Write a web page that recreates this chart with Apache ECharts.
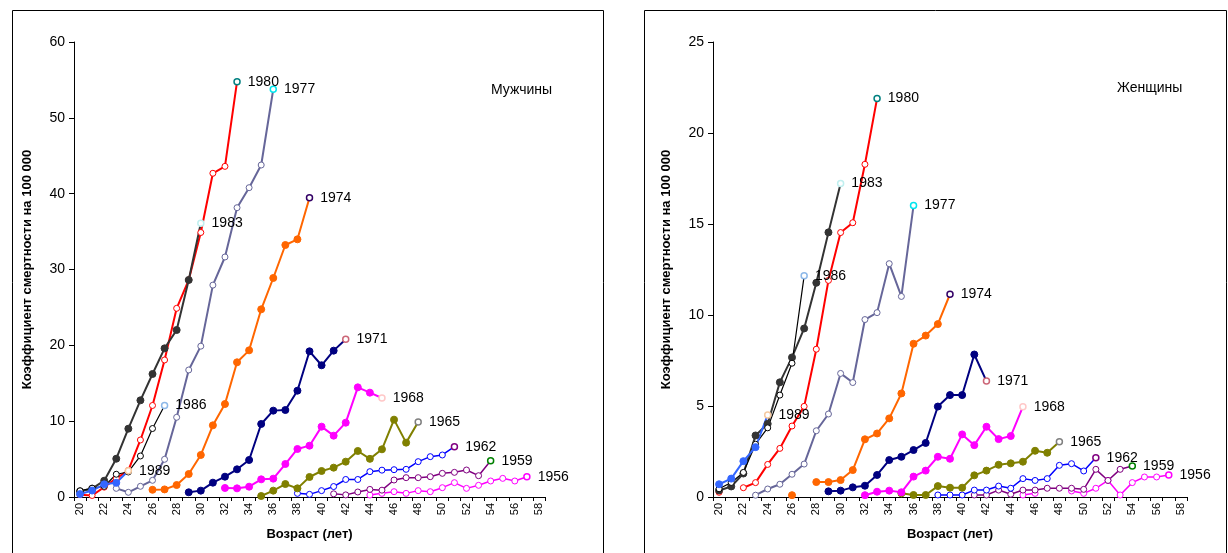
<!DOCTYPE html>
<html>
<head>
<meta charset="utf-8">
<script src="https://cdn.jsdelivr.net/npm/echarts@6/dist/echarts.min.js"></script>
<style>html,body{margin:0;padding:0;background:#fff}#c{width:1228px;height:553px}</style>
</head>
<body>
<div id="c"></div>
<script>
// Age categories (x axis)
const ages = ['20','21','22','23','24','25','26','27','28','29','30','31','32','33','34','35','36','37','38','39','40','41','42','43','44','45','46','47','48','49','50','51','52','53','54','55','56','57','58'];
const cohorts = ['1956','1959','1962','1965','1968','1971','1974','1977','1980','1983','1986','1989'];
// first age of each cohort's data
const startMen   = [44, 41, 38, 35, 32, 29, 26, 23, 20, 20, 20, 20];
const startWomen = [45, 41, 38, 35, 32, 29, 26, 23, 20, 20, 20, 20];

// Men (Мужчины), rate per 100 000
const m1956 = [0.26, 0.48, 0.7, 0.48, 0.84, 0.7, 1.23, 1.89, 1.14, 1.54, 2.11, 2.46, 2.11, 2.68];
const m1959 = [0.42, 0.28, 0.66, 1.0, 0.9, 2.24, 2.55, 2.55, 2.68, 3.12, 3.25, 3.56, 2.81, 4.79];
const m1962 = [0.48, 0.35, 0.84, 1.38, 2.31, 2.31, 3.34, 3.54, 3.6, 3.65, 4.66, 5.32, 5.54, 6.64];
const m1965 = [0.13, 0.84, 1.71, 1.14, 2.64, 3.43, 3.87, 4.66, 6.07, 5.03, 6.29, 10.2, 7.17, 9.89];
const m1968 = [1.19, 1.14, 1.36, 2.33, 2.42, 4.35, 6.33, 6.77, 9.28, 8.09, 9.8, 14.46, 13.76, 13.06];
const m1971 = [0.62, 0.84, 1.89, 2.68, 3.65, 4.88, 9.63, 11.39, 11.47, 14.02, 19.21, 17.37, 19.3, 20.8];
const m1974 = [0.95, 1.0, 1.58, 3.03, 5.54, 9.45, 12.26, 17.76, 19.34, 24.75, 28.88, 33.23, 33.98, 39.47];
const m1977 = [1.14, 0.62, 1.41, 2.2, 4.97, 10.51, 16.75, 19.89, 27.94, 31.65, 38.15, 40.79, 43.78, 53.77];
const m1980 = [0.3, 0.2, 1.3, 2.46, 3.5, 7.52, 12.07, 18.07, 24.88, 28.62, 34.88, 42.69, 43.6, 54.77];
const m1983 = [0.75, 1.1, 2.15, 5.05, 9.01, 12.75, 16.22, 19.6, 22.02, 28.62, 36.09];
const m1986 = [0.82, 1.16, 1.4, 3.0, 3.3, 5.41, 9.03, 12.07];
const m1989 = [0.38, 0.85, 1.67, 1.87, 3.47];

// Women (Женщины)
const w1956 = [0.11, 0.2, null, null, 0.33, 0.2, 0.48, 0.91, 0.11, 0.79, 1.1, 1.1, 1.21];
const w1959 = [0.11, 0.11, 0.38, 0.15, 0.38, 0.38, 0.48, 0.48, 0.48, 0.42, 1.52, 0.91, 1.52, 1.7];
const w1962 = [0.11, 0.11, 0.11, 0.38, 0.38, 0.6, 0.48, 1.01, 0.91, 1.01, 1.74, 1.83, 1.43, 2.16];
const w1965 = [0.2, 0.11, 0.11, 0.6, 0.51, 0.51, 1.19, 1.45, 1.77, 1.85, 1.94, 2.54, 2.43, 3.04];
const w1968 = [0.1, 0.29, 0.35, 0.26, 1.12, 1.45, 2.21, 2.1, 3.44, 2.85, 3.86, 3.18, 3.35, 4.96];
const w1971 = [0.31, 0.35, 0.53, 0.62, 1.21, 2.03, 2.21, 2.58, 2.97, 4.97, 5.6, 5.6, 7.83, 6.37];
const w1974 = [0.1, null, 0.82, 0.82, 0.93, 1.48, 3.17, 3.49, 4.32, 5.69, 8.42, 8.87, 9.5, 11.14];
const w1977 = [0.1, 0.44, 0.7, 1.25, 1.81, 3.64, 4.56, 6.79, 6.29, 9.75, 10.13, 12.82, 11.02, 16.01];
const w1980 = [0.26, null, 0.51, 0.79, 1.79, 2.67, 3.9, 4.98, 8.12, 11.9, 14.53, 15.07, 18.28, 21.9];
const w1983 = [0.36, 0.58, 1.29, 3.38, 4.02, 6.3, 7.67, 9.26, 11.77, 14.54, 17.23];
const w1986 = [0.45, 0.8, 1.35, 2.9, 3.8, 5.6, 7.35, 12.15];
const w1989 = [0.7, 1.01, 1.97, 2.74, 4.51];

const menData = [m1956, m1959, m1962, m1965, m1968, m1971, m1974, m1977, m1980, m1983, m1986, m1989];
const womenData = [w1956, w1959, w1962, w1965, w1968, w1971, w1974, w1977, w1980, w1983, w1986, w1989];

// styles
const lineColor = ['#FF00FF','#800080','#0000FF','#808000','#FF00FF','#000080','#FF6600','#666699','#FF0000','#333333','#000000','#3366FF'];
const lastColor = ['#FF00FF','#008000','#800080','#808080','#FFC8C8','#CC6677','#330066','#00E5EE','#008080','#BFEFEF','#8DB8E8','#F5C9A0'];
const filled    = [false,false,false,true,true,true,true,false,false,true,false,true];
const lineW     = [1.5,1.5,1.5,2,2,2,2,2,2,2,1.2,2];

const FONT = 'Liberation Sans, Arial, sans-serif';

function buildSeries(gridIdx, starts, dataSets) {
  return cohorts.map((name, i) => {
    const vals = dataSets[i];
    const startIdx = ages.indexOf(String(starts[i]));
    const data = ages.map(() => null);
    let lastIdx = -1;
    vals.forEach((v, k) => { data[startIdx + k] = v; if (v !== null) lastIdx = startIdx + k; });
    const out = data.map((v, idx) => {
      if (v === null) return null;
      if (idx === lastIdx) {
        return {
          value: v,
          symbolSize: 6,
          itemStyle: { color: '#fff', borderColor: lastColor[i], borderWidth: 1.5 },
          label: { show: true, position: 'right', distance: 7, formatter: name, color: '#000', fontSize: 14, fontFamily: FONT }
        };
      }
      return v;
    });
    return {
      type: 'line', name: name + (gridIdx ? 'w' : 'm'),
      xAxisIndex: gridIdx, yAxisIndex: gridIdx,
      data: out, showAllSymbol: true, symbol: 'circle', symbolSize: filled[i] ? 7 : 6,
      connectNulls: false, animation: false,
      lineStyle: { color: lineColor[i], width: lineW[i] },
      itemStyle: filled[i] ? { color: lineColor[i], borderColor: lineColor[i], borderWidth: 1 }
                           : { color: '#fff', borderColor: lineColor[i], borderWidth: 1 },
      emphasis: { disabled: true }
    };
  });
}

function xAxisCfg(gridIndex) {
  return {
    type: 'category', gridIndex, data: ages, boundaryGap: true,
    name: 'Возраст (лет)', nameLocation: 'middle', nameGap: 31,
    nameTextStyle: { fontFamily: FONT, fontSize: 13, fontWeight: 'bold', color: '#000' },
    axisLine: { lineStyle: { color: '#000', width: 1 } },
    axisTick: { show: true, interval: 0, length: 4, lineStyle: { color: '#000' } },
    axisLabel: { interval: 1, rotate: 90, fontFamily: FONT, fontSize: 11, color: '#000', margin: 6 },
    splitLine: { show: false }
  };
}
function yAxisCfg(gridIndex, max, interval) {
  return {
    type: 'value', gridIndex, min: 0, max, interval,
    name: 'Коэффициент смертности на 100 000', nameLocation: 'middle', nameGap: 40,
    nameTextStyle: { fontFamily: FONT, fontSize: 13, fontWeight: 'bold', color: '#000' },
    axisLine: { show: true, lineStyle: { color: '#000', width: 1 } },
    axisTick: { show: true, length: 5, lineStyle: { color: '#000' } },
    axisLabel: { fontFamily: FONT, fontSize: 14, color: '#000', margin: 9 },
    splitLine: { show: false }
  };
}

const chart = echarts.init(document.getElementById('c'), null, { renderer: 'canvas' });
chart.setOption({
  backgroundColor: '#fff',
  animation: false,
  grid: [
    { left: 74, top: 42, width: 471, height: 455 },
    { left: 713, top: 42, width: 474, height: 455 }
  ],
  xAxis: [xAxisCfg(0), xAxisCfg(1)],
  yAxis: [yAxisCfg(0, 60, 10), yAxisCfg(1, 25, 5)],
  graphic: [
    { type: 'rect', shape: { x: 12.5, y: 10.5, width: 591, height: 560 }, style: { fill: 'none', stroke: '#000', lineWidth: 1 }, silent: true },
    { type: 'rect', shape: { x: 644.5, y: 10.5, width: 582, height: 560 }, style: { fill: 'none', stroke: '#000', lineWidth: 1 }, silent: true },
    { type: 'text', left: 491, top: 83, style: { text: 'Мужчины', fontFamily: FONT, fontSize: 14, fill: '#000' } },
    { type: 'text', left: 1117, top: 81, style: { text: 'Женщины', fontFamily: FONT, fontSize: 14, fill: '#000' } }
  ],
  series: buildSeries(0, startMen, menData).concat(buildSeries(1, startWomen, womenData))
});
</script>
</body>
</html>
